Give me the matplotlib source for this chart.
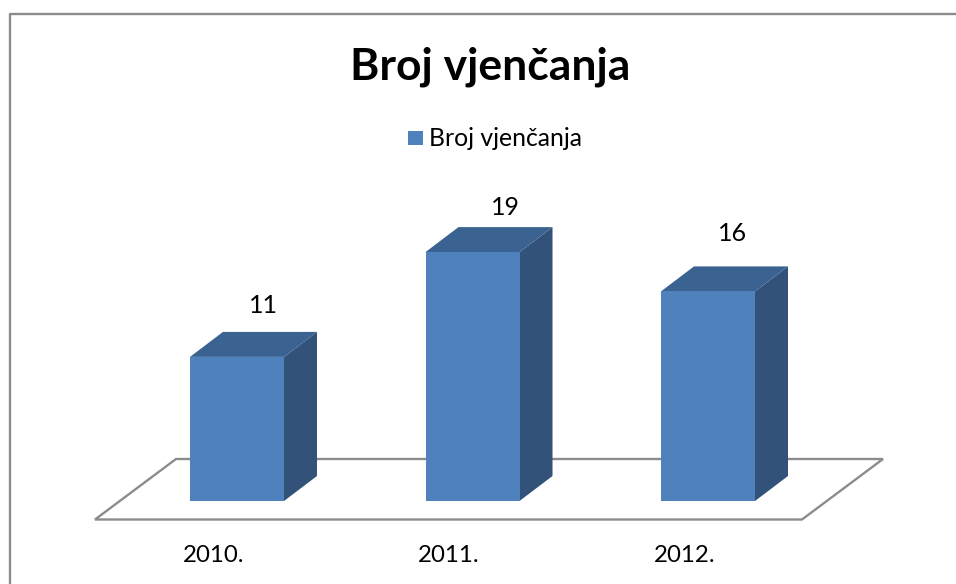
import matplotlib
matplotlib.use("Agg")
import matplotlib.pyplot as plt
from matplotlib.patches import Polygon, Rectangle

years = ["2010.", "2011.", "2012."]
weddings = [11, 19, 16]
series_name = "Broj vjenčanja"

W, H = 956, 584
plt.rcParams["font.family"] = ["Lato", "DejaVu Sans"]

FRONT = "#4F81BD"
TOP = "#3B6391"
SIDE = "#32527A"
GREY = "#8C8C8C"

# pixel scale of the plot: one category = 235.5 px, one wedding = 13.1 px
PX_X = 235.5
PX_Y = 13.1
X0, Y0 = 237, 501   # pixel of first category / value 0

# value label pixel offsets from the top back edge of each bar
label_dx = [26, 33, 25]
label_dy = [-26, -20, -33]

fig = plt.figure(figsize=(W / 100, H / 100), dpi=100, facecolor="white")
ax = fig.add_axes([0, 0, 1, 1])
ax.set_xlim((0 - X0) / PX_X, (W - X0) / PX_X)
ax.set_ylim((Y0 - H) / PX_Y, Y0 / PX_Y)
ax.axis("off")

bar_w = 94 / PX_X
dx = 33 / PX_X
dy = 25 / PX_Y


def px(x, y):
    return (x - X0) / PX_X, (Y0 - y) / PX_Y


# floor
floor = [px(95, 519.5), px(176, 459), px(883, 459), px(802, 519.5)]
ax.add_patch(Polygon(floor, closed=True, facecolor="white", edgecolor=GREY, linewidth=1.7, zorder=1))

# bars
for i, (year, v) in enumerate(zip(years, weddings)):
    l = i - bar_w / 2
    r = i + bar_w / 2
    ax.add_patch(Polygon([(r, 0), (r + dx, dy), (r + dx, v + dy), (r, v)], facecolor=SIDE, edgecolor="none", zorder=2))
    ax.add_patch(Polygon([(l, v), (l + dx, v + dy), (r + dx, v + dy), (r, v)], facecolor=TOP, edgecolor="none", zorder=2))
    ax.bar(i, v, width=bar_w, color=FRONT, zorder=3)
    ax.text(i + label_dx[i] / PX_X, v + dy - label_dy[i] / PX_Y, str(v),
            ha="center", va="center", fontsize=18, color="black")
    ax.text(i - 23.5 / PX_X, px(0, 556)[1], year, ha="center", va="center", fontsize=17.3, color="black")

# title and legend
ax.text(*px(490, 67), series_name, ha="center", va="center", fontsize=32, fontweight="bold", color="black")
ax.add_patch(Rectangle(px(408, 145), 15 / PX_X, 14 / PX_Y, facecolor=FRONT, edgecolor="none"))
ax.text(*px(429, 139), series_name, ha="left", va="center", fontsize=17.8, color="black")

# chart frame, cropped at right and bottom
ax.plot(*zip(px(W, 14), px(9.5, 14), px(9.5, H)), color=GREY, linewidth=1.7, zorder=5)

fig.savefig("out.png", dpi=100, facecolor="white")
